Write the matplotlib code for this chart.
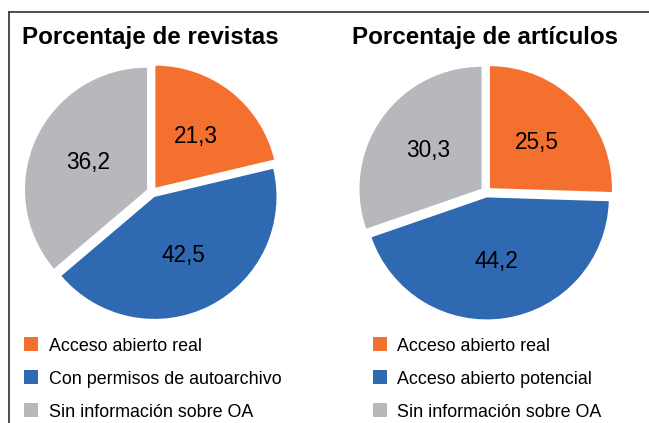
import matplotlib
matplotlib.use("Agg")
import matplotlib.pyplot as plt
from matplotlib import font_manager
from matplotlib.patches import Rectangle
from matplotlib.lines import Line2D

names = {f.name for f in font_manager.fontManager.ttflist}
FONT = "Liberation Sans" if "Liberation Sans" in names else "DejaVu Sans"
HAS_NARROW = "Liberation Sans Narrow" in names
NARROW = "Liberation Sans Narrow" if HAS_NARROW else FONT
plt.rcParams['font.family'] = [FONT, 'DejaVu Sans']

titles = ["Porcentaje de revistas", "Porcentaje de artículos"]
values_revistas = [21.3, 42.5, 36.2]
values_articulos = [25.5, 44.2, 30.3]
labels_revistas = ["Acceso abierto real", "Con permisos de autoarchivo", "Sin información sobre OA"]
labels_articulos = ["Acceso abierto real", "Acceso abierto potencial", "Sin información sobre OA"]
colors = ["#F3702F", "#2E69B2", "#B7B8BC"]

W, H = 649, 423
fig = plt.figure(figsize=(W / 100, H / 100), dpi=100)

R = 122  # pie radius in px
LIM = 1.12
LABEL_SIZE = 18 if HAS_NARROW else 16.3

def add_pie(cx, cy, vals, title_x, title):
    half = R * LIM
    ax = fig.add_axes([(cx - half) / W, 1 - (cy + half) / H, 2 * half / W, 2 * half / H])
    ax.pie(vals, colors=colors, startangle=90, counterclock=False,
           explode=[0.045] * len(vals),
           labels=[f"{v:.1f}".replace(".", ",") for v in vals],
           labeldistance=0.535,
           textprops=dict(fontsize=LABEL_SIZE, color="black", ha="center", va="center",
                          family=[NARROW, 'DejaVu Sans']),
           wedgeprops=dict(linewidth=0))
    ax.set_xlim(-LIM, LIM)
    ax.set_ylim(-LIM, LIM)
    ax.set_aspect('equal', adjustable='box')
    fig.text(title_x / W, 1 - 44 / H, title, fontsize=17.4, fontweight='bold',
             ha='center', va='baseline')
    return ax

add_pie(152, 192, values_revistas, 150, titles[0])
add_pie(486, 192, values_articulos, 485.5, titles[1])

def add_legend(x_sq, x_txt, labels):
    sq_c = [343.5, 377, 410]
    base = [351, 384, 416.5]
    for yc, yb, lab, col in zip(sq_c, base, labels, colors):
        fig.patches.append(Rectangle((x_sq / W, 1 - (yc + 7) / H), 14 / W, 14 / H,
                                     transform=fig.transFigure, facecolor=col,
                                     edgecolor='none'))
        fig.text(x_txt / W, 1 - yb / H, lab, fontsize=12.9, ha='left', va='baseline')

add_legend(24, 49, labels_revistas)
add_legend(373, 397, labels_articulos)

# frame lines (top and left)
fig.add_artist(Line2D([9 / W, 1.0], [1 - 12 / H, 1 - 12 / H], transform=fig.transFigure,
                      color="#404040", linewidth=1.3))
fig.add_artist(Line2D([9 / W, 9 / W], [1 - 12 / H, 0.0], transform=fig.transFigure,
                      color="#404040", linewidth=1.3))

fig.savefig("out.png", dpi=100, facecolor="white")
